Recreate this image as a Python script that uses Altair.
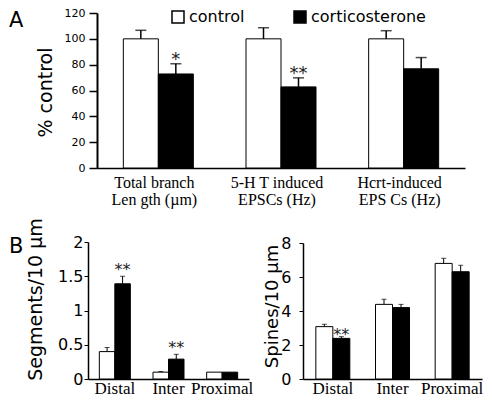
import altair as alt
import pandas as pd

series = ["control", "corticosterone"]

# Panel A (% control)
a_groups = ["Total branch|Len gth (µm)", "5-H T induced|EPSCs  (Hz)", "Hcrt-induced|EPS Cs (Hz)"]
a_control = [100, 100, 100]
a_control_err = [6.6, 8.6, 6.3]
a_cort = [72.8, 62.8, 76.8]
a_cort_err = [7.9, 7.0, 8.7]
a_stars = ["*", "**", ""]

# Panel B left (Segments/10 µm)
b1_groups = ["Distal", "Inter", "Proximal"]
b1_control = [0.40, 0.10, 0.10]
b1_control_err = [0.06, 0.01, 0.0]
b1_cort = [1.39, 0.29, 0.10]
b1_cort_err = [0.11, 0.07, 0.0]
b1_stars = ["**", "**", ""]

# Panel B right (Spines/10 µm)
b2_groups = ["Distal", "Inter", "Proximal"]
b2_control = [3.08, 4.39, 6.80]
b2_control_err = [0.14, 0.30, 0.30]
b2_cort = [2.39, 4.20, 6.31]
b2_cort_err = [0.10, 0.19, 0.38]
b2_stars = ["**", "", ""]

W, H = 476, 390
SANS = "DejaVu Sans"
SERIF = "Liberation Serif"


def make_df(groups, ctrl, ctrl_err, cort, cort_err, stars):
    rows = []
    for g, v, e in zip(groups, ctrl, ctrl_err):
        rows.append({"group": g, "series": "control", "value": v, "err": e, "top": v + e, "star": ""})
    for g, v, e, s in zip(groups, cort, cort_err, stars):
        rows.append({"group": g, "series": "corticosterone", "value": v, "err": e, "top": v + e, "star": s})
    return pd.DataFrame(rows)


def panel(df, groups, xrange, yrange, ydomain, yvalues, yfmt, y_kw, x_kw, bw, rule_w,
          cap_size, cap_w, star_size, star_dy, legend=None, multiline=None):
    base = alt.Chart(df)
    xax = alt.Axis(orient="bottom", title=None, ticks=False, labelAngle=0,
                   domainColor="black", labelColor="black", **x_kw)
    xsc = alt.Scale(range=xrange, paddingInner=0, paddingOuter=0)
    yax = alt.Axis(orient="left", values=yvalues, grid=False, format=yfmt,
                   domainColor="black", tickColor="black", labelColor="black",
                   titleFontWeight="normal", titleAngle=270, titleAlign="center",
                   titleBaseline="middle", titleColor="black", labelFont=SANS,
                   titleFont=SANS, **y_kw)
    ysc = alt.Scale(domain=ydomain, range=yrange, nice=False, zero=True)

    def X():
        return alt.X("group:N", sort=groups, scale=xsc, axis=xax)

    def Y(field):
        return alt.Y(field + ":Q", scale=ysc, axis=yax)

    layers = []
    for i, s in enumerate(series):
        sub = base.transform_filter(alt.datum.series == s)
        off = (-0.5 if i == 0 else 0.5) * bw
        if legend is not None:
            fill = alt.Fill("series:N", scale=alt.Scale(domain=series, range=["white", "black"]),
                            legend=legend)
            bar = sub.mark_bar(width=bw, xOffset=off, stroke="black", strokeWidth=1).encode(
                x=X(), y=Y("value"), fill=fill)
        else:
            bar = sub.mark_bar(width=bw, xOffset=off, stroke="black", strokeWidth=1,
                               fill="white" if i == 0 else "black").encode(x=X(), y=Y("value"))
        layers.append(bar)
        witherr = sub.transform_filter("datum.err > 0")
        layers.append(witherr.mark_rule(color="black", strokeWidth=rule_w, xOffset=off).encode(
            x=X(), y=Y("value"), y2="top:Q"))
        layers.append(witherr.mark_tick(color="black", size=cap_size, thickness=cap_w,
                                        orient="horizontal", xOffset=off).encode(
            x=X(), y=Y("top")))
        layers.append(sub.transform_filter("datum.star != ''").mark_text(
            font=SANS, fontSize=star_size, baseline="alphabetic", dy=star_dy, xOffset=off,
            color="#222").encode(x=X(), y=Y("top"), text="star:N"))
    if multiline is not None:
        gdf = pd.DataFrame({"group": groups})
        layers.append(alt.Chart(gdf).mark_text(
            font=SERIF, fontSize=16, lineHeight=17, lineBreak="|", baseline="top", dx=-4,
            color="black").encode(x=X(), y=alt.value(multiline), text="group:N"))
    return alt.layer(*layers)


a_df = make_df(a_groups, a_control, a_control_err, a_cort, a_cort_err, a_stars)
b1_df = make_df(b1_groups, b1_control, b1_control_err, b1_cort, b1_cort_err, b1_stars)
b2_df = make_df(b2_groups, b2_control, b2_control_err, b2_cort, b2_cort_err, b2_stars)

legend = alt.Legend(orient="none", legendX=162, legendY=1, direction="horizontal", title=None,
                    symbolType="square", symbolSize=144, symbolStrokeColor="black",
                    symbolStrokeWidth=1.5, labelFontSize=16, labelFont=SANS, labelOffset=3,
                    labelColor="black", columnPadding=46, padding=0)

A_BOTTOM = 160
panel_a = panel(
    a_df, a_groups, [89, 457], [A_BOTTOM, 5], [0, 120], [0, 20, 40, 60, 80, 100, 120], "d",
    dict(offset=-89, tickSize=8, tickWidth=1.5, domainWidth=2, labelFontSize=11, labelPadding=4,
         title="% control", titleFontSize=19, titleX=-52, titleY=84),
    dict(offset=A_BOTTOM - H, labels=False, domainWidth=1.5),
    35, 1.5, 11, 1.5, 18, 1.5, legend=legend, multiline=A_BOTTOM + 7)

panel_b1 = panel(
    b1_df, b1_groups, [80, 241], [371, 234], [0, 2], [0, 0.5, 1, 1.5, 2], "~g",
    dict(offset=-80, tickSize=4, tickWidth=1, domainWidth=1.5, labelFontSize=16, labelPadding=1,
         title="Segments/10 µm", titleFontSize=19, titleX=-53, titleY=291),
    dict(offset=371 - H, labelFont=SERIF, labelFontSize=17, labelPadding=1, domainWidth=1.5),
    15.5, 1, 5, 1, 16, -1.5)

panel_b2 = panel(
    b2_df, b2_groups, [295, 474], [371, 235], [0, 8], [0, 2, 4, 6, 8], "d",
    dict(offset=-295, tickSize=4, tickWidth=1, domainWidth=1.5, labelFontSize=16, labelPadding=8,
         title="Spines/10 µm", titleFontSize=18, titleX=-31, titleY=298),
    dict(offset=371 - H, labelFont=SERIF, labelFontSize=17, labelPadding=1, domainWidth=1.5),
    17, 1, 5, 1, 16, 3)

letters_df = pd.DataFrame({"letter": ["A", "B"], "px": [1, 1], "py": [19, 245]})
letters = alt.Chart(letters_df).mark_text(
    font=SANS, fontSize=21, align="left", baseline="alphabetic", color="black").encode(
    text="letter:N",
    x=alt.X("px:Q", scale=None, axis=None),
    y=alt.Y("py:Q", scale=None, axis=None))

chart = alt.layer(panel_a, panel_b1, panel_b2, letters).resolve_scale(
    x="independent", y="independent", fill="independent"
).properties(
    width=W, height=H, autosize=alt.AutoSizeParams(type="none"), padding=0
).configure_view(stroke=None)

chart.save("out.html", embed_options={"renderer": "svg", "actions": False})
